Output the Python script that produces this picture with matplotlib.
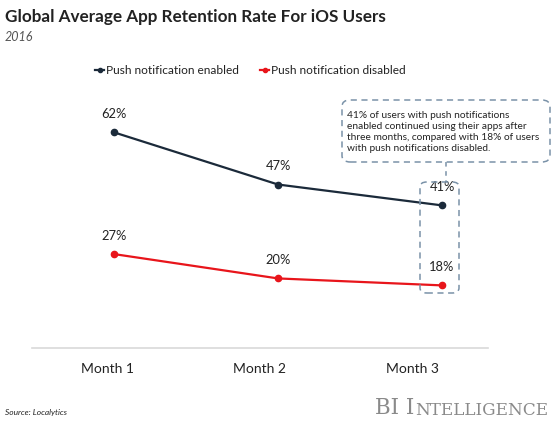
import matplotlib
matplotlib.use("Agg")
import matplotlib.pyplot as plt
from matplotlib.patches import FancyBboxPatch
from matplotlib.lines import Line2D
import matplotlib.transforms as mtransforms

months = ["Month 1", "Month 2", "Month 3"]
enabled = [62, 47, 41]
disabled = [27, 20, 18]
series_names = ["Push notification enabled", "Push notification disabled"]
note = ("41% of users with push notifications\n"
        "enabled continued using their apps after\n"
        "three months, compared with 18% of users\n"
        "with push notifications disabled.")

plt.rcParams['font.family'] = ['Lato', 'DejaVu Sans']

W, H = 560, 421
fig = plt.figure(figsize=(5.6, 4.21), dpi=100)
fig.patch.set_facecolor('white')

def fx(px):
    return px / W

def fy(py):
    return 1 - py / H

ax = fig.add_axes([fx(32), fy(348), fx(488 - 32), (348 - 100) / H])
ax.set_xlim(-0.5, 2.28)
ax.set_ylim(0, 71.3)
for s in ['top', 'right', 'left']:
    ax.spines[s].set_visible(False)
ax.spines['bottom'].set_color('#d9d9d9')
ax.spines['bottom'].set_linewidth(1.2)
ax.set_yticks([])
x = list(range(len(months)))
ax.set_xticks(x)
ax.set_xticklabels(months, fontsize=10, color='#222222')
ax.tick_params(axis='x', length=0, pad=11)
offs = [-7, -19, -30]
for lab, o in zip(ax.get_xticklabels(), offs):
    lab.set_transform(lab.get_transform() + mtransforms.ScaledTranslation(o / 100, 0, fig.dpi_scale_trans))

c_en = '#1b2a3a'
c_dis = '#e8151b'
ax.plot(x, enabled, color=c_en, lw=1.6, marker='o', ms=4.5, label=series_names[0])
ax.plot(x, disabled, color=c_dis, lw=1.6, marker='o', ms=4.5, label=series_names[1])

for xi, v in zip(x, enabled):
    ax.annotate(f"{v}%", (xi, v), xytext=(0, 9), textcoords='offset points',
                ha='center', va='bottom', fontsize=9.3, color='#222222')
for xi, v in zip(x, disabled):
    ax.annotate(f"{v}%", (xi, v), xytext=(0, 9), textcoords='offset points',
                ha='center', va='bottom', fontsize=9.3, color='#222222')

handles = [Line2D([0], [0], color=c_en, lw=1.6, marker='o', ms=3),
           Line2D([0], [0], color=c_dis, lw=1.6, marker='o', ms=3)]
leg = fig.legend(handles, series_names, loc='center', bbox_to_anchor=(fx(250), fy(71)),
                 ncol=2, frameon=False, fontsize=8.6, handlelength=0.8, handletextpad=0.1,
                 columnspacing=1.8, labelcolor='#222222')

fig.text(fx(5), fy(17), "Global Average App Retention Rate For iOS Users", fontsize=12.3,
         fontweight='bold', color='#222222', ha='left', va='center')
fig.text(fx(5), fy(37), "2016", fontsize=9, style='italic', color='#555555', ha='left', va='center')

box_col = '#7a92a8'
b1 = FancyBboxPatch((fx(342), fy(162)), fx(550 - 342), (162 - 100) / H,
                    boxstyle="round,pad=0,rounding_size=0.015", transform=fig.transFigure,
                    fill=False, edgecolor=box_col, lw=1.1, ls=(0, (4, 3)))
fig.patches.append(b1)
fig.text(fx(347), fy(132), note, fontsize=7.3, color='#222222', ha='left', va='center',
         linespacing=1.3)
b2 = FancyBboxPatch((fx(420), fy(293)), fx(459 - 420), (293 - 182) / H,
                    boxstyle="round,pad=0,rounding_size=0.012", transform=fig.transFigure,
                    fill=False, edgecolor=box_col, lw=1.1, ls=(0, (4, 3)))
fig.patches.append(b2)
fig.add_artist(Line2D([fx(446), fx(446)], [fy(162), fy(182)], transform=fig.transFigure,
                      color=box_col, lw=1.1, ls=(0, (3, 3))))

fig.text(fx(5), fy(413), "Source: Localytics", fontsize=6, style='italic', color='#222222',
         ha='left', va='center')
t1 = fig.text(fx(375), fy(414), "BI I", fontsize=15.5, family='DejaVu Serif',
              color='#8a8a8a', ha='left', va='baseline')
plt.annotate("NTELLIGENCE", xy=(1, 0), xycoords=t1, xytext=(0.5, 0), textcoords='offset points',
             fontsize=12.2, family='DejaVu Serif', color='#8a8a8a', ha='left', va='bottom',
             annotation_clip=False)

fig.savefig("out.png", dpi=100, facecolor='white')
